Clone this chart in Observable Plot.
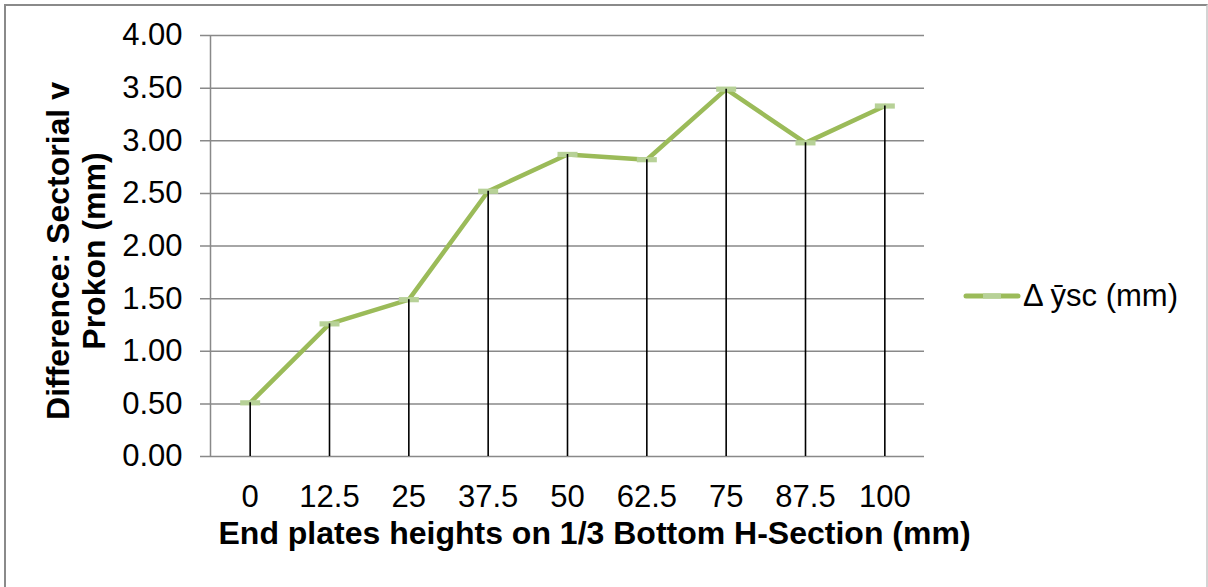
<!DOCTYPE html>
<html>
<head>
<meta charset="utf-8">
<script src="https://cdn.jsdelivr.net/npm/d3@7"></script>
<script src="https://cdn.jsdelivr.net/npm/@observablehq/plot@0.6"></script>
<style>
  html, body { margin: 0; padding: 0; background: #fff; }
  #wrap { position: relative; width: 1208px; height: 587px; overflow: hidden; font-family: "Liberation Sans", Arial, sans-serif; }
  #border { position: absolute; left: 4px; top: 4px; width: 1204px; height: 600px; box-sizing: border-box; border: 2px solid #8a8a8a; border-right-color: #d4d4d4; pointer-events: none; }
  #legend { position: absolute; left: 963px; top: 278px; display: flex; align-items: center; font-size: 31px; color: #000; white-space: nowrap; }
  #legend span { margin-left: 2px; }
</style>
</head>
<body>
<div id="wrap">
  <div id="chart"></div>
  <div id="legend"></div>
  <div id="border"></div>
</div>
<script>
// End plate heights (mm) on the 1/3 bottom H-section
const heights = ["0", "12.5", "25", "37.5", "50", "62.5", "75", "87.5", "100"];
// Difference between Sectorial and Prokon shear-centre position, Δ ȳsc (mm)
const diffYsc = [0.51, 1.26, 1.49, 2.52, 2.87, 2.82, 3.49, 2.98, 3.33];
// Value-axis ticks
const yTicks = [0, 0.5, 1, 1.5, 2, 2.5, 3, 3.5, 4];
const seriesName = "Δ ȳsc (mm)";

const lineColor = "#9bbb59";
const markColor = "#b7d197";
const gridColor = "#898989";

const rows = heights.map((h, i) => ({idx: i, h, v: diffYsc[i]}));

// flat dash used as the point marker
const dashSymbol = {
  draw(ctx) {
    ctx.moveTo(-10, -2.6);
    ctx.lineTo(10, -2.6);
    ctx.lineTo(10, 2.6);
    ctx.lineTo(-10, 2.6);
    ctx.closePath();
  }
};

const chart = Plot.plot({
  width: 1208,
  height: 587,
  marginLeft: 210,
  marginRight: 284,
  marginTop: 35,
  marginBottom: 131,
  style: {fontFamily: "'Liberation Sans', Arial, sans-serif", fontSize: "31px", color: "#000", background: "transparent"},
  x: {domain: [-0.5, heights.length - 0.5], axis: null},
  y: {domain: [0, 4], axis: null},
  marks: [
    // horizontal gridlines with short outside ticks
    Plot.ruleY(yTicks, {stroke: gridColor, strokeWidth: 1.5, insetLeft: -10}),
    // value axis line
    Plot.ruleX([-0.5], {y1: 0, y2: 4, stroke: gridColor, strokeWidth: 1.5}),
    Plot.axisY({ticks: yTicks, tickFormat: d3.format(".2f"), tickSize: 0, tickPadding: 28, label: null, fontSize: 31}),
    Plot.axisX({ticks: rows.map(d => d.idx), tickFormat: i => heights[i], tickSize: 0, tickPadding: 28, label: null, fontSize: 31}),
    // series line and markers
    Plot.line(rows, {x: "idx", y: "v", stroke: lineColor, strokeWidth: 4.5, strokeLinejoin: "miter"}),
    Plot.dot(rows, {x: "idx", y: "v", symbol: dashSymbol, fill: markColor, stroke: "none"}),
    // drop lines from each point to the category axis
    Plot.ruleX(rows, {x: "idx", y1: 0, y2: "v", stroke: "#000", strokeWidth: 1.6}),
    // axis titles
    Plot.text(["End plates heights on 1/3 Bottom H-Section (mm)"], {
      frameAnchor: "bottom", dx: 27, dy: 87, fontSize: 32, fontWeight: "bold", fill: "#000"
    }),
    Plot.text(["Difference: Sectorial v\nProkon (mm)"], {
      frameAnchor: "left", textAnchor: "middle", rotate: -90, dx: -135, dy: 5,
      fontSize: 32, fontWeight: "bold", lineHeight: 1.125, fill: "#000"
    })
  ]
});
document.getElementById("chart").appendChild(chart);

// legend: line swatch with centre marker, then series name
const legend = d3.select("#legend");
const sw = legend.append("svg").attr("width", 58).attr("height", 12);
sw.append("line").attr("x1", 3).attr("x2", 55).attr("y1", 6).attr("y2", 6)
  .attr("stroke", lineColor).attr("stroke-width", 5).attr("stroke-linecap", "round");
sw.append("rect").attr("x", 20).attr("y", 3.4).attr("width", 18).attr("height", 5.2).attr("fill", markColor);
legend.append("span").text(seriesName);
</script>
</body>
</html>
